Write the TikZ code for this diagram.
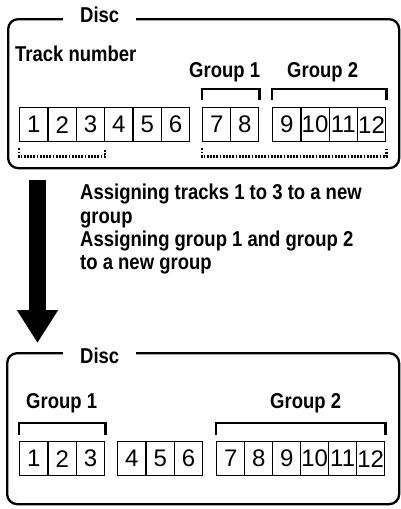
\documentclass[tikz,border=0pt]{standalone}
\usepackage{fontspec}
\setmainfont{Liberation Sans}
\newfontfamily\labfont[FakeStretch=0.86]{Liberation Sans}
\usetikzlibrary{arrows.meta}
\tikzset{
  frame/.style={draw, line width=2.3pt, rounded corners=10pt, inner sep=0pt, anchor=north west},
  labtxt/.style={inner sep=0pt, anchor=base west, font=\labfont\bfseries\fontsize{21.5}{23.3}\selectfont},
  title/.style={labtxt, fill=white, inner xsep=17pt, inner ysep=1pt},
  trk/.style={draw, line width=1.4pt, inner sep=0pt, minimum height=34pt, anchor=north west, font=\fontsize{24}{25}\selectfont},
  brk/.style={line width=2.3pt},
  dotbrk/.style={line width=2.2pt, dash pattern=on 1.8pt off 1.4pt},
  bigarrow/.style={line width=17pt, -{Triangle[width=39pt,length=33pt]}}
}
\begin{document}
\begin{tikzpicture}[x=1pt,y=-1pt]
\useasboundingbox (0,0) rectangle (401,509);
% ---------- top disc ----------
\node[frame, minimum width=391pt, minimum height=149pt] (topdisc) at (7,18) {};
\node[title] (toptitle) at (63,22) {Disc};
\node[labtxt] (tracknum) at (15,61) {Track number};
\node[labtxt] (tg1) at (189,77) {Group 1};
\node[labtxt] (tg2) at (287,77) {Group 2};
\foreach \i in {1,...,6}
  \node[trk, minimum width=28.33pt] (t\i) at ({19+(\i-1)*28.33},107) {\i};
\foreach \i in {7,8}
  \node[trk, minimum width=28pt] (t\i) at ({202+(\i-7)*28},107) {\i};
\foreach \i in {9,...,12}
  \node[trk, minimum width=28.25pt] (t\i) at ({272+(\i-9)*28.25},107) {\i};
% brackets
\draw[brk] ([yshift=7pt]t7.north west) |- ([yshift=18pt]t8.north east) -- ([yshift=7pt]t8.north east);
\draw[brk] ([yshift=7pt]t9.north west) |- ([yshift=18pt]t12.north east) -- ([yshift=7pt]t12.north east);
% dotted brackets
\draw[dotbrk] ([yshift=-6pt]t1.south west) |- ([yshift=-14pt]t3.south east) -- ([yshift=-6pt]t3.south east);
\draw[dotbrk] ([yshift=-6pt]t7.south west) |- ([yshift=-14pt]t12.south east) -- ([yshift=-6pt]t12.south east);
% ---------- arrow and text ----------
\coordinate (a0) at (37.5,180);
\coordinate (a1) at (37.5,343);
\draw[bigarrow] (a0) -- (a1);
\node[labtxt, align=left, anchor=north west] (desc) at (80,184)
  {Assigning tracks 1 to 3 to a new\\group\\Assigning group 1 and group 2\\to a new group};
% ---------- bottom disc ----------
\node[frame, minimum width=392pt, minimum height=151pt] (botdisc) at (6,352) {};
\node[title] (bottitle) at (63,363) {Disc};
\node[labtxt] (bg1) at (26,408) {Group 1};
\node[labtxt] (bg2) at (270,408) {Group 2};
\foreach \i in {1,2,3}
  \node[trk, minimum width=28.33pt] (b\i) at ({19+(\i-1)*28.33},441) {\i};
\foreach \i in {4,5,6}
  \node[trk, minimum width=28.33pt] (b\i) at ({117+(\i-4)*28.33},441) {\i};
\foreach \i in {7,...,12}
  \node[trk, minimum width=28pt] (b\i) at ({216+(\i-7)*28},441) {\i};
\draw[brk] ([yshift=6pt]b1.north west) |- ([yshift=18pt]b3.north east) -- ([yshift=6pt]b3.north east);
\draw[brk] ([yshift=6pt]b7.north west) |- ([yshift=18pt]b12.north east) -- ([yshift=6pt]b12.north east);
\end{tikzpicture}
\end{document}
